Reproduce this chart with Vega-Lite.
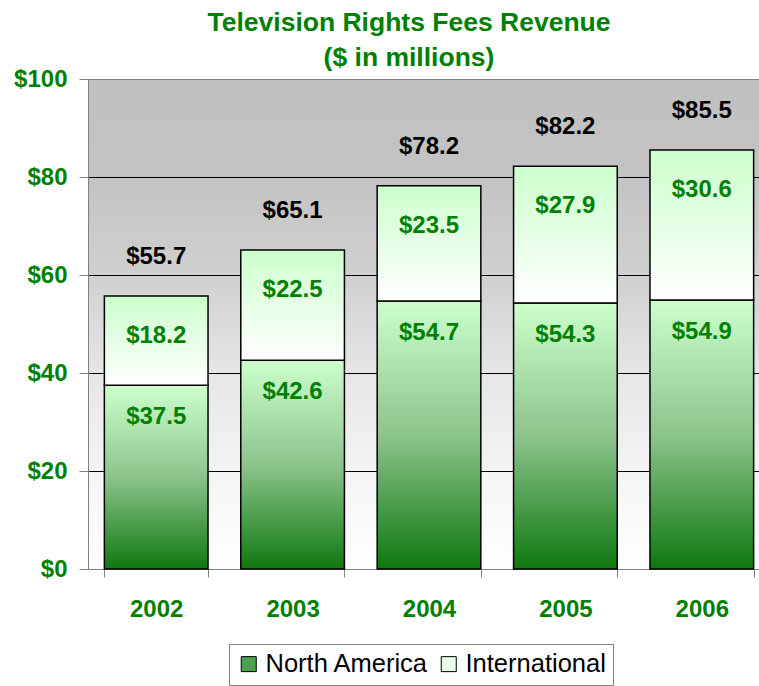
{
  "$schema": "https://vega.github.io/schema/vega-lite/v6.json",
  "width": 682,
  "height": 490,
  "autosize": {"type": "none"},
  "padding": {"left": 88, "top": 79, "right": 0, "bottom": 117},
  "background": "white",
  "config": {
    "font": "Liberation Sans",
    "view": {
      "stroke": "#808080",
      "strokeWidth": 1,
      "fill": {"gradient": "linear", "x1": 0, "y1": 0, "x2": 0, "y2": 1,
        "stops": [
          {"offset": 0, "color": "#c0c0c0"},
          {"offset": 0.2, "color": "#c3c3c3"},
          {"offset": 0.4, "color": "#d0d0d0"},
          {"offset": 0.6, "color": "#e6e6e6"},
          {"offset": 0.8, "color": "#f4f4f4"},
          {"offset": 1, "color": "#ffffff"}
        ]}
    }
  },
  "title": {
    "text": ["Television Rights Fees Revenue", "($ in millions)"],
    "color": "#008000",
    "fontSize": 26.5,
    "fontWeight": "bold",
    "font": "Liberation Sans",
    "lineHeight": 35,
    "offset": 8,
    "dy": 12,
    "dx": -20,
    "anchor": "middle"
  },
  "data": {
    "values": [
      {"year": "2002", "series": "North America", "value": 37.5},
      {"year": "2002", "series": "International", "value": 18.2},
      {"year": "2003", "series": "North America", "value": 42.6},
      {"year": "2003", "series": "International", "value": 22.5},
      {"year": "2004", "series": "North America", "value": 54.7},
      {"year": "2004", "series": "International", "value": 23.5},
      {"year": "2005", "series": "North America", "value": 54.3},
      {"year": "2005", "series": "International", "value": 27.9},
      {"year": "2006", "series": "North America", "value": 54.9},
      {"year": "2006", "series": "International", "value": 30.6}
    ]
  },
  "transform": [
    {"calculate": "datum.series === 'North America' ? 0 : 1", "as": "ord"},
    {"stack": "value", "groupby": ["year"], "sort": [{"field": "ord"}], "as": ["v0", "v1"]}
  ],
  "encoding": {
    "x": {
      "field": "year",
      "type": "ordinal",
      "scale": {"paddingInner": 0.24, "paddingOuter": 0.12},
      "axis": {
        "title": null,
        "labelAngle": 0,
        "labelColor": "#008000",
        "labelFont": "Liberation Sans",
        "labelFontSize": 24,
        "labelFontWeight": "bold",
        "labelPadding": 20,
        "tickBand": "extent",
        "tickSize": 8,
        "tickColor": "#808080",
        "domainColor": "#808080",
        "grid": false
      }
    }
  },
  "layer": [
    {
      "transform": [{"filter": "datum.series === 'North America'"}],
      "mark": {
        "type": "bar", "stroke": "black", "strokeWidth": 1.5,
        "fill": {"gradient": "linear", "x1": 0, "y1": 1, "x2": 0, "y2": 0,
          "stops": [{"offset": 0, "color": "#0f780f"}, {"offset": 0.5, "color": "#8cc48c"}, {"offset": 1, "color": "#ccffcc"}]}
      },
      "encoding": {
        "y": {
          "field": "v1",
          "type": "quantitative",
          "scale": {"domain": [0, 100]},
          "axis": {
            "title": null,
            "values": [0, 20, 40, 60, 80, 100],
            "labelExpr": "'$' + datum.value",
            "labelColor": "#008000",
            "labelFont": "Liberation Sans",
            "labelFontSize": 24,
            "labelFontWeight": "bold",
            "labelPadding": 12,
            "tickSize": 9,
            "tickColor": "#808080",
            "domainColor": "#808080",
            "grid": true,
            "gridColor": {"condition": {"test": "datum.value === 100 || datum.value === 0", "value": "#808080"}, "value": "black"},
            "gridWidth": 1
          }
        },
        "y2": {"field": "v0"}
      }
    },
    {
      "transform": [{"filter": "datum.series === 'International'"}],
      "mark": {
        "type": "bar", "stroke": "black", "strokeWidth": 1.5,
        "fill": {"gradient": "linear", "x1": 0, "y1": 0, "x2": 0, "y2": 1,
          "stops": [{"offset": 0, "color": "#ccffcc"}, {"offset": 1, "color": "#ffffff"}]}
      },
      "encoding": {
        "y": {"field": "v1", "type": "quantitative"},
        "y2": {"field": "v0"}
      }
    },
    {
      "mark": {"type": "square", "opacity": 0, "strokeWidth": 1},
      "encoding": {
        "y": {"field": "v1", "type": "quantitative"},
        "fill": {
          "field": "series",
          "type": "nominal",
          "scale": {"domain": ["North America", "International"], "range": ["#4ca24c", "#e8ffe8"]},
          "legend": {
            "title": null,
            "orient": "none",
            "direction": "horizontal",
            "legendX": 141,
            "legendY": 565,
            "padding": 7,
            "strokeColor": "#808080",
            "fillColor": "white",
            "symbolType": "square",
            "symbolSize": 225,
            "symbolOpacity": 1,
            "symbolStrokeWidth": 1,
            "labelFont": "Liberation Sans",
            "labelFontSize": 25.5,
            "labelColor": "black",
            "labelOffset": 4,
            "columnPadding": 7,
            "labelLimit": 300
          }
        },
        "stroke": {
          "field": "series",
          "type": "nominal",
          "scale": {"domain": ["North America", "International"], "range": ["black", "black"]},
          "legend": {
            "title": null,
            "orient": "none",
            "direction": "horizontal",
            "legendX": 141,
            "legendY": 565,
            "padding": 7,
            "strokeColor": "#808080",
            "fillColor": "white",
            "symbolType": "square",
            "symbolSize": 225,
            "symbolOpacity": 1,
            "symbolStrokeWidth": 1,
            "labelFont": "Liberation Sans",
            "labelFontSize": 25.5,
            "labelColor": "black",
            "labelOffset": 4,
            "columnPadding": 7,
            "labelLimit": 300
          }
        }
      }
    },
    {
      "transform": [{"filter": "datum.series === 'North America'"}],
      "mark": {"type": "text", "baseline": "middle", "dy": 32, "fontSize": 24, "fontWeight": "bold", "color": "#008000"},
      "encoding": {
        "y": {"field": "v1", "type": "quantitative"},
        "text": {"field": "value", "type": "quantitative", "format": "$.1f"}
      }
    },
    {
      "transform": [{"filter": "datum.series === 'International'"}],
      "mark": {"type": "text", "baseline": "middle", "dy": 40, "fontSize": 24, "fontWeight": "bold", "color": "#008000"},
      "encoding": {
        "y": {"field": "v1", "type": "quantitative"},
        "text": {"field": "value", "type": "quantitative", "format": "$.1f"}
      }
    },
    {
      "transform": [
        {"aggregate": [{"op": "sum", "field": "value", "as": "total"}], "groupby": ["year"]}
      ],
      "mark": {"type": "text", "baseline": "middle", "dy": -39, "fontSize": 24, "fontWeight": "bold", "color": "black"},
      "encoding": {
        "y": {"field": "total", "type": "quantitative"},
        "text": {"field": "total", "type": "quantitative", "format": "$.1f"}
      }
    }
  ]
}
